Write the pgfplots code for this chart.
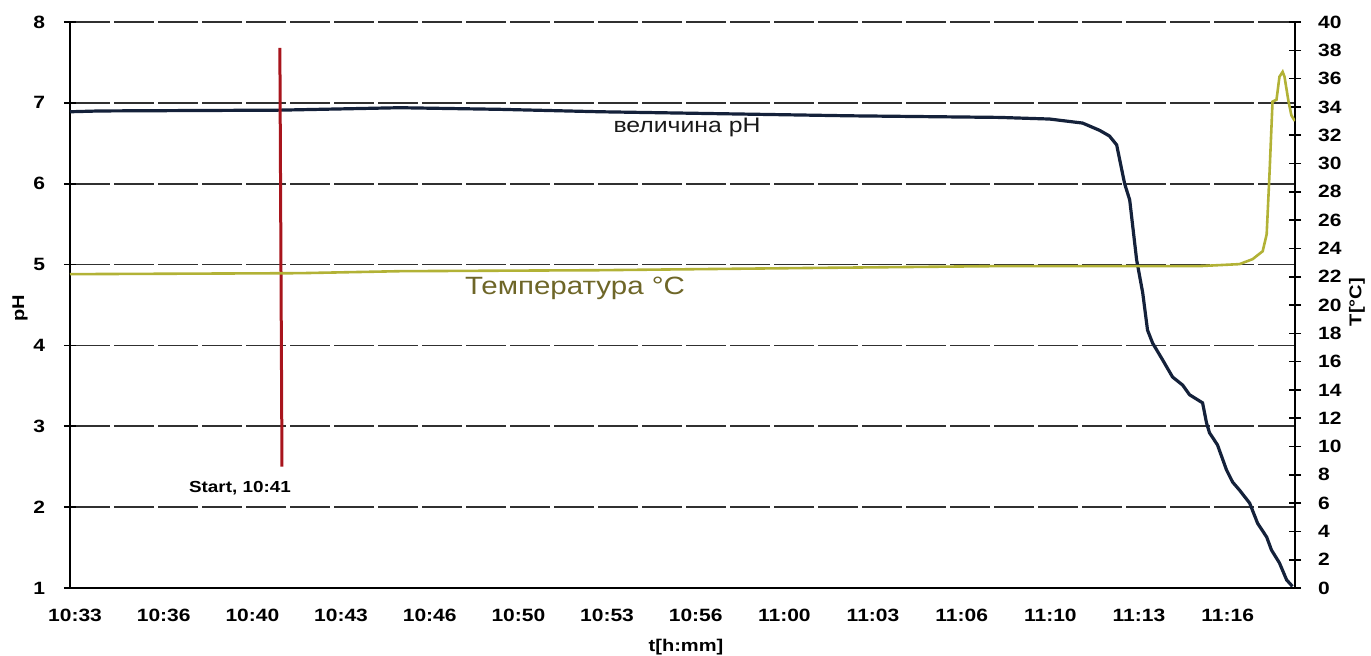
\documentclass[border=0pt]{standalone}
\usepackage{pgfplots}
\pgfplotsset{compat=1.18}
\usepackage{fontspec}
\setmainfont{Liberation Sans}
\newfontfamily\widefont[FakeStretch=1.18]{Liberation Sans}
\definecolor{phline}{HTML}{14213A}
\definecolor{templine}{HTML}{B2B236}
\definecolor{temptext}{HTML}{6E6628}
\definecolor{startred}{HTML}{A8141C}
\definecolor{gridc}{HTML}{303030}

% x in minutes since 10:33
\pgfplotstableread{
t pH
-0.19 6.89
0.94 6.90
7.70 6.91
12.21 6.94
15.97 6.92
19.73 6.89
23.49 6.87
29.12 6.84
34.76 6.82
36.64 6.80
37.88 6.75
38.52 6.66
38.89 6.59
39.16 6.48
39.46 6.00
39.65 5.80
39.91 5.06
40.14 4.65
40.32 4.19
40.51 4.03
40.89 3.82
41.26 3.61
41.64 3.51
41.90 3.39
42.39 3.29
42.54 3.04
42.65 2.92
42.95 2.77
43.29 2.46
43.52 2.31
43.78 2.21
44.16 2.05
44.46 1.80
44.80 1.63
44.98 1.47
45.28 1.31
45.55 1.10
45.77 1.02
}\phdata

\pgfplotstableread{
t T
-0.19 22.18
8.46 22.25
12.21 22.39
19.73 22.46
27.26 22.61
34.76 22.75
42.29 22.75
43.78 22.89
44.27 23.24
44.65 23.80
44.80 25.00
44.91 29.44
45.02 34.37
45.17 34.51
45.28 36.13
45.40 36.48
45.47 36.13
45.62 34.40
45.73 33.40
45.86 33.00
}\tempdata

\begin{document}
\begin{tikzpicture}
\path[use as bounding box] (-35pt,-33.5pt) rectangle (650.5pt,294pt);
\pgfplotsset{
  every axis/.append style={
    scale only axis, width=612.5pt, height=283pt,
    xmin=-0.19, xmax=45.865,
    tick align=center,
    major tick length=6pt, minor tick length=3pt,
    axis line style={line width=1pt, black},
    every tick/.style={black, line width=0.8pt},
    tick label style={font=\widefont\bfseries\fontsize{8.9}{10}\selectfont},
    /pgf/number format/assume math mode=true,
  },
}
\begin{axis}[
  axis x line*=bottom, axis y line*=left,
  ymin=1, ymax=8, ytick={1,...,8},
  xtick={0,3.3333,6.6667,10,13.3333,16.6667,20,23.3333,26.6667,30,33.3333,36.6667,40,43.3333},
  xticklabels={10:33,10:36,10:40,10:43,10:46,10:50,10:53,10:56,11:00,11:03,11:06,11:10,11:13,11:16},
  x tick style={draw=none},
  minor xtick={-0.19,2.328,...,45.2},
  minor x tick style={black, line width=0.8pt},
  xticklabel style={yshift=-4pt},
  yticklabel style={xshift=-6pt},
  ymajorgrids,
  grid style={gridc, line width=0.8pt, dash pattern=on 20pt off 2pt},
  clip=false,
]
\addplot[phline, line width=1.6pt] table[x=t, y=pH] {\phdata};
\addplot[startred, line width=1.5pt] coordinates {(7.70,7.68) (7.78,2.50)};
\end{axis}
\begin{axis}[
  axis x line=none, axis y line*=right,
  ymin=0, ymax=40, ytick={0,2,...,40},
  yticklabel style={xshift=5pt},
]
\addplot[templine, line width=1.3pt] table[x=t, y=T] {\tempdata};
\end{axis}

\node[font=\widefont\fontsize{10.5}{12}\selectfont, text=black!90] at (308.5pt,230.5pt) {величина pH};
\node[font=\widefont\fontsize{12.5}{14}\selectfont, text=temptext] at (252.5pt,150pt) {Температура °C};
\node[font=\widefont\bfseries\fontsize{8}{9}\selectfont] at (85pt,50pt) {Start, 10:41};
\node[font=\widefont\bfseries\fontsize{8.5}{10}\selectfont, rotate=90] at (-25pt,140pt) {pH};
\node[font=\widefont\bfseries\fontsize{8.5}{10}\selectfont, rotate=90] at (643.5pt,143pt) {T[°C]};
\node[font=\widefont\bfseries\fontsize{8.5}{10}\selectfont] at (308pt,-29.5pt) {t[h:mm]};
\end{tikzpicture}
\end{document}
